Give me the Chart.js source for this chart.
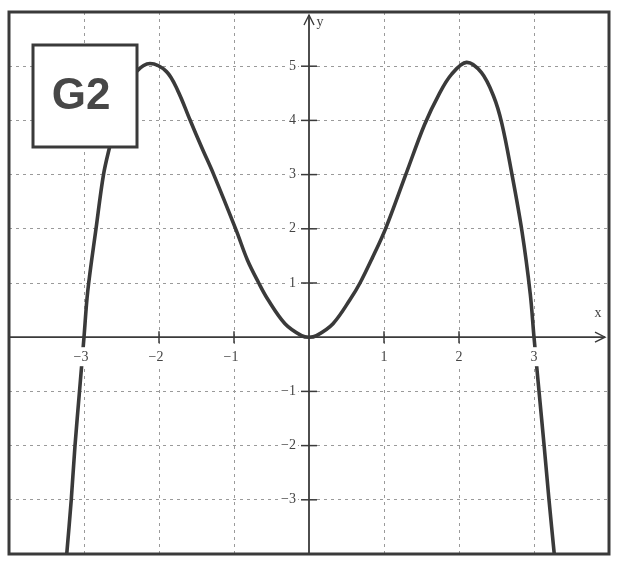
<!DOCTYPE html>
<html>
<head>
<meta charset="utf-8">
<script src="https://cdn.jsdelivr.net/npm/chart.js@4.4.1/dist/chart.umd.min.js"></script>
<style>
  html, body { margin: 0; padding: 0; background: #fff; }
  #wrap { width: 621px; height: 562px; }
</style>
</head>
<body>
<div id="wrap"><canvas id="graph" width="621" height="562"></canvas></div>
<script>
// points, left to right
const curveX = [-3.23, -3.17, -3.12, -3.06, -3.0, -2.95, -2.84, -2.74, -2.66, -2.56, -2.44, -2.3, -2.12,
  -1.9, -1.75, -1.59, -1.43, -1.27, -0.97, -0.82, -0.67, -0.55, -0.32, -0.1, 0,
  0.1, 0.32, 0.55, 0.68, 0.84, 1.02, 1.29, 1.54, 1.74, 1.9, 2.1, 2.3, 2.46, 2.57, 2.7, 2.84, 2.95, 3.0,
  3.067, 3.135, 3.2, 3.27]
const curveY = [-4.0, -3.0, -2.0, -1.0, 0, 0.85, 2.0, 3.0, 3.5, 4.05, 4.55, 4.9, 5.05,
  4.9, 4.55, 4.02, 3.5, 3.0, 1.97, 1.42, 1.0, 0.7, 0.25, 0.03, 0,
  0.03, 0.25, 0.7, 1.0, 1.45, 2.0, 3.0, 3.92, 4.5, 4.85, 5.07, 4.88, 4.45, 3.95, 3.05, 1.95, 0.8, 0,
  -1.0, -2.0, -3.0, -4.0]

const xTicks = [-3, -2, -1, 1, 2, 3]
const yTicks = [-3, -2, -1, 1, 2, 3, 4, 5]
const xRange = [-4, 4]
const yRange = [-4, 6]

const ink = "#3a3a3a"
const labelFont = "14px 'Liberation Serif', 'DejaVu Serif', serif"

function minus(v) {
    return v < 0 ? "\u2212" + Math.abs(v) : String(v)
}

// axes, ticks, labels, frame and the G2 tag go on top of the curve
const axesPlugin = {
    id: "axesOnTop",
    beforeDraw(chart) {
        const ctx = chart.ctx
        ctx.save()
        ctx.fillStyle = "#fff"
        ctx.fillRect(0, 0, chart.width, chart.height)
        ctx.restore()
    },
    afterDatasetsDraw(chart) {
        const ctx = chart.ctx
        const area = chart.chartArea
        const sx = chart.scales.x
        const sy = chart.scales.y
        const x0 = sx.getPixelForValue(0)
        const y0 = sy.getPixelForValue(0)

        ctx.save()
        ctx.strokeStyle = ink
        ctx.lineWidth = 1.8

        // x axis with arrow
        ctx.beginPath()
        ctx.moveTo(area.left, y0)
        ctx.lineTo(area.right - 4, y0)
        ctx.stroke()
        ctx.lineWidth = 1.4
        ctx.beginPath()
        ctx.moveTo(area.right - 14, y0 - 5)
        ctx.lineTo(area.right - 4, y0)
        ctx.lineTo(area.right - 14, y0 + 5)
        ctx.stroke()

        // y axis with arrow
        ctx.lineWidth = 1.8
        ctx.beginPath()
        ctx.moveTo(x0, area.bottom)
        ctx.lineTo(x0, area.top + 3)
        ctx.stroke()
        ctx.lineWidth = 1.4
        ctx.beginPath()
        ctx.moveTo(x0 - 5, area.top + 13)
        ctx.lineTo(x0, area.top + 3)
        ctx.lineTo(x0 + 5, area.top + 13)
        ctx.stroke()

        // tick marks
        ctx.lineWidth = 1.5
        xTicks.forEach(v => {
            const px = sx.getPixelForValue(v)
            ctx.beginPath()
            ctx.moveTo(px, y0 - 6)
            ctx.lineTo(px, y0 + 6)
            ctx.stroke()
        })
        yTicks.forEach(v => {
            const py = sy.getPixelForValue(v)
            ctx.beginPath()
            ctx.moveTo(x0 - 8, py)
            ctx.lineTo(x0 + 8, py)
            ctx.stroke()
        })

        // tick labels on a white backdrop
        ctx.font = labelFont
        ctx.textBaseline = "middle"
        xTicks.forEach(v => {
            const txt = minus(v)
            const px = sx.getPixelForValue(v) - (v < 0 ? 3 : 0)
            const w = ctx.measureText(txt).width
            ctx.fillStyle = "#fff"
            ctx.fillRect(px - w / 2 - 2, y0 + 10, w + 4, 19)
            ctx.fillStyle = "#444"
            ctx.textAlign = "center"
            ctx.fillText(txt, px, y0 + 20)
        })
        yTicks.forEach(v => {
            const txt = minus(v)
            const py = sy.getPixelForValue(v)
            const w = ctx.measureText(txt).width
            ctx.fillStyle = "#fff"
            ctx.fillRect(x0 - 13 - w - 2, py - 8, w + 4, 16)
            ctx.fillStyle = "#444"
            ctx.textAlign = "right"
            ctx.fillText(txt, x0 - 13, py)
        })

        // axis names
        ctx.fillStyle = "#444"
        ctx.textAlign = "center"
        ctx.fillText("x", area.right - 11, y0 - 24)
        ctx.fillText("y", x0 + 11, area.top + 10)

        // outer frame
        ctx.lineWidth = 3
        ctx.strokeStyle = ink
        ctx.strokeRect(area.left, area.top, area.right - area.left, area.bottom - area.top)

        // G2 tag
        const bx = area.left + 24, by = area.top + 33, bw = 104, bh = 102
        ctx.fillStyle = "#fff"
        ctx.fillRect(bx, by, bw, bh)
        ctx.lineWidth = 3
        ctx.strokeRect(bx, by, bw, bh)
        ctx.fillStyle = "#474747"
        ctx.font = "bold 44px 'Liberation Sans', Arial, sans-serif"
        ctx.textAlign = "center"
        ctx.textBaseline = "middle"
        ctx.fillText("G2", bx + bw / 2 - 4, by + bh / 2 + 1)
        ctx.restore()
    }
}

function gridColor(ctx, limits) {
    const v = ctx.tick ? ctx.tick.value : null
    if (v === null || v === 0 || v === limits[0] || v === limits[1]) return "rgba(0,0,0,0)"
    return "#9a9a9a"
}

new Chart(document.getElementById("graph"), {
    type: "scatter",
    data: {
        datasets: [{
            data: curveX.map((x, i) => ({ x: x, y: curveY[i] })),
            showLine: true,
            borderColor: ink,
            borderWidth: 3.6,
            pointRadius: 0,
            tension: 0.35,
            clip: 0
        }]
    },
    options: {
        responsive: false,
        animation: false,
        events: [],
        layout: { padding: { left: 9, top: 12, right: 12, bottom: 8 } },
        plugins: { legend: { display: false }, tooltip: { enabled: false } },
        scales: {
            x: {
                type: "linear",
                min: xRange[0],
                max: xRange[1],
                ticks: { display: false, stepSize: 1 },
                grid: { drawTicks: false, lineWidth: 1, color: c => gridColor(c, xRange) },
                border: { display: false, dash: [3, 4] }
            },
            y: {
                type: "linear",
                min: yRange[0],
                max: yRange[1],
                ticks: { display: false, stepSize: 1 },
                grid: { drawTicks: false, lineWidth: 1, color: c => gridColor(c, yRange) },
                border: { display: false, dash: [3, 4] }
            }
        }
    },
    plugins: [axesPlugin]
})
</script>
</body>
</html>
